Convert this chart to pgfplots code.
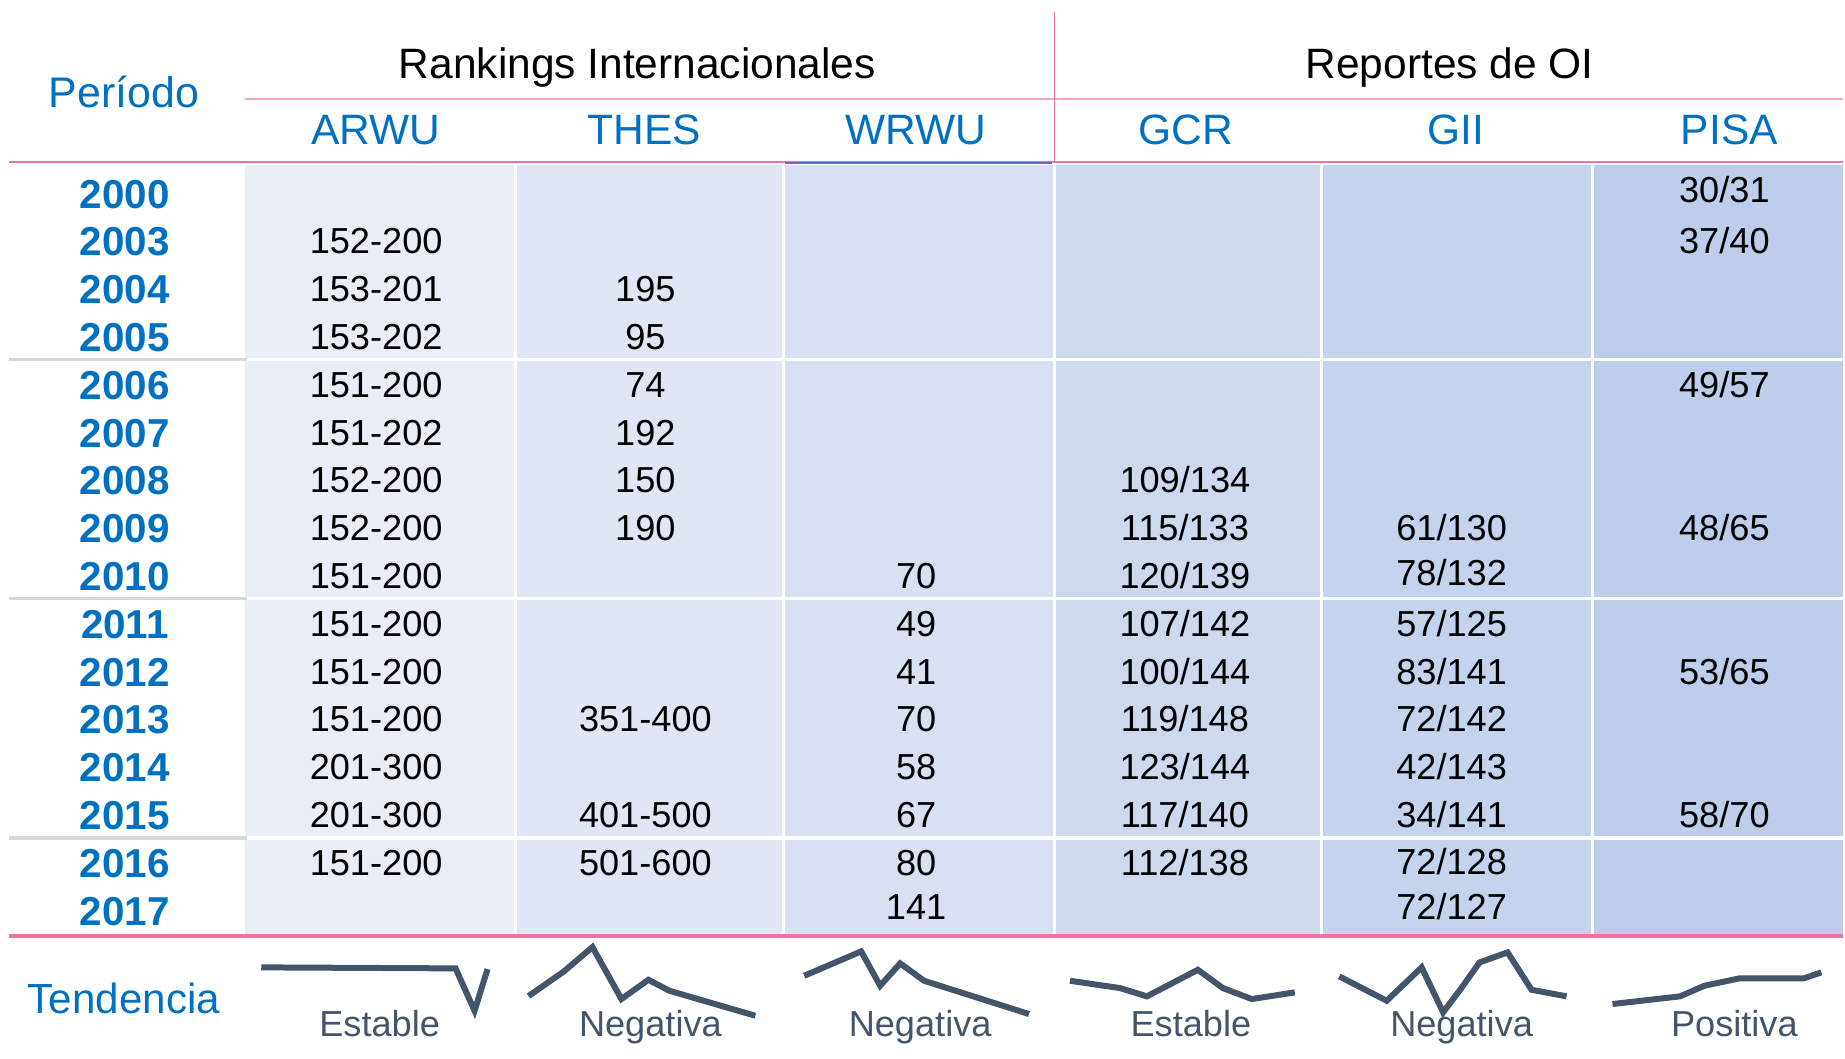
\documentclass[border=0pt]{standalone}
\usepackage{fontspec}
\setmainfont{Liberation Sans}
\usepackage{pgfplots}
\pgfplotsset{compat=1.18}
\definecolor{hblue}{RGB}{0,112,192}
\definecolor{spark}{RGB}{68,84,106}
\definecolor{pinkA}{RGB}{244,112,158}
\definecolor{pinkB}{RGB}{250,160,192}
\definecolor{gline}{RGB}{216,216,216}
\definecolor{wline}{RGB}{96,108,190}
\definecolor{cA}{RGB}{233,237,246}
\definecolor{cB}{RGB}{224,230,243}
\definecolor{cC}{RGB}{216,224,242}
\definecolor{cD}{RGB}{207,217,238}
\definecolor{cE}{RGB}{198,211,236}
\definecolor{cF}{RGB}{190,205,233}
\newcommand{\fs}[1]{\fontsize{#1}{#1}\selectfont}
\newcommand{\cell}[3]{\node[anchor=base,font=\fs{10.3}] at (axis cs:#1,#2+2) {#3};}
\newcommand{\yr}[2]{\node[anchor=base,font=\fs{11.5}\bfseries,text=hblue] at (axis cs:125,#1) {#2};}
\begin{document}
\begin{tikzpicture}
\begin{axis}[scale only axis, width=18.45cm, height=10.6cm,
  xmin=0, xmax=1845, ymin=0, ymax=1060, y dir=reverse,
  hide axis, clip=false]
\path (axis cs:0,0) rectangle (axis cs:1845,1060);
% column backgrounds
\addplot[draw=none, fill=cA] coordinates {(245,165)(514,165)(514,936)(245,936)} -- cycle;
\addplot[draw=none, fill=cB] coordinates {(517,165)(783,165)(783,936)(517,936)} -- cycle;
\addplot[draw=none, fill=cC] coordinates {(786,165)(1054,165)(1054,936)(786,936)} -- cycle;
\addplot[draw=none, fill=cD] coordinates {(1057,165)(1321,165)(1321,936)(1057,936)} -- cycle;
\addplot[draw=none, fill=cE] coordinates {(1324,165)(1592,165)(1592,936)(1324,936)} -- cycle;
\addplot[draw=none, fill=cF] coordinates {(1595,165)(1845,165)(1845,936)(1595,936)} -- cycle;
% white row separators
\addplot[white, line width=0.35mm] coordinates {(245,360)(1845,360)};
\addplot[white, line width=0.35mm] coordinates {(245,599)(1845,599)};
\addplot[white, line width=0.35mm] coordinates {(245,839)(1845,839)};
% grey separators at left
\addplot[gline, line width=0.35mm] coordinates {(9,360)(247,360)};
\addplot[gline, line width=0.35mm] coordinates {(9,599)(247,599)};
\addplot[gline, line width=0.35mm] coordinates {(9,839)(247,839)};
% pink lines
\addplot[pinkB, line width=0.25mm] coordinates {(245,99)(1845,99)};
\addplot[pinkA, line width=0.22mm] coordinates {(9,162)(1845,162)};
\addplot[pinkA, line width=0.1mm] coordinates {(1055,12)(1055,162)};
\addplot[wline, line width=0.2mm] coordinates {(786,163)(1053,163)};
\addplot[pinkA, line width=0.35mm] coordinates {(9,937)(1845,937)};
% headers
\node[anchor=base,font=\fs{12.1}] at (axis cs:638,79) {Rankings Internacionales};
\node[anchor=base,font=\fs{12.1}] at (axis cs:1451,79) {Reportes de OI};
\node[anchor=base,font=\fs{12.2},text=hblue] at (axis cs:124,107.5) {Período};
\node[anchor=base,font=\fs{12.1},text=hblue] at (axis cs:376.5,145) {ARWU};
\node[anchor=base,font=\fs{12.1},text=hblue] at (axis cs:645,145) {THES};
\node[anchor=base,font=\fs{12.1},text=hblue] at (axis cs:917,145) {WRWU};
\node[anchor=base,font=\fs{12.1},text=hblue] at (axis cs:1187,145) {GCR};
\node[anchor=base,font=\fs{12.1},text=hblue] at (axis cs:1457,145) {GII};
\node[anchor=base,font=\fs{12.1},text=hblue] at (axis cs:1731,145) {PISA};
% years
\yr{208.3}{2000}
\yr{256.15}{2003}
\yr{304.0}{2004}
\yr{351.85}{2005}
\yr{399.7}{2006}
\yr{447.55}{2007}
\yr{495.4}{2008}
\yr{543.25}{2009}
\yr{591.1}{2010}
\yr{638.95}{2011}
\yr{686.8}{2012}
\yr{734.65}{2013}
\yr{782.5}{2014}
\yr{830.35}{2015}
\yr{878.2}{2016}
\yr{926.05}{2017}
% ARWU
\cell{376.5}{252.15}{152-200}
\cell{376.5}{300.0}{153-201}
\cell{376.5}{347.85}{153-202}
\cell{376.5}{395.7}{151-200}
\cell{376.5}{443.55}{151-202}
\cell{376.5}{491.4}{152-200}
\cell{376.5}{539.25}{152-200}
\cell{376.5}{587.1}{151-200}
\cell{376.5}{634.95}{151-200}
\cell{376.5}{682.8}{151-200}
\cell{376.5}{730.65}{151-200}
\cell{376.5}{778.5}{201-300}
\cell{376.5}{826.35}{201-300}
\cell{376.5}{874.2}{151-200}
% THES
\cell{646}{300.0}{195}
\cell{646}{347.85}{95}
\cell{646}{395.7}{74}
\cell{646}{443.55}{192}
\cell{646}{491.4}{150}
\cell{646}{539.25}{190}
\cell{646}{730.65}{351-400}
\cell{646}{826.35}{401-500}
\cell{646}{874.2}{501-600}
% WRWU
\cell{917}{587.1}{70}
\cell{917}{634.95}{49}
\cell{917}{682.8}{41}
\cell{917}{730.65}{70}
\cell{917}{778.5}{58}
\cell{917}{826.35}{67}
\cell{917}{874.2}{80}
\cell{917}{918}{141}
% GCR
\cell{1186}{491.4}{109/134}
\cell{1186}{539.25}{115/133}
\cell{1186}{587.1}{120/139}
\cell{1186}{634.95}{107/142}
\cell{1186}{682.8}{100/144}
\cell{1186}{730.65}{119/148}
\cell{1186}{778.5}{123/144}
\cell{1186}{826.35}{117/140}
\cell{1186}{874.2}{112/138}
% GII
\cell{1453}{539.25}{61/130}
\cell{1453}{584}{78/132}
\cell{1453}{634.95}{57/125}
\cell{1453}{682.8}{83/141}
\cell{1453}{730.65}{72/142}
\cell{1453}{778.5}{42/143}
\cell{1453}{826.35}{34/141}
\cell{1453}{873}{72/128}
\cell{1453}{918}{72/127}
% PISA
\cell{1726}{200.7}{30/31}
\cell{1726}{252.15}{37/40}
\cell{1726}{395.7}{49/57}
\cell{1726}{539.25}{48/65}
\cell{1726}{682.8}{53/65}
\cell{1726}{826.35}{58/70}
% Tendencia
\node[anchor=base,font=\fs{12.0},text=hblue] at (axis cs:124,1014.3) {Tendencia};
\addplot[spark, line width=0.6mm, line join=miter] coordinates {(261.5,968.3)(456,969.3)(475,1011.7)(488,970)};
\addplot[spark, line width=0.6mm, line join=miter] coordinates {(529,997)(564,972.7)(593,948)(622,1000)(649,980.7)(670,991.7)(756,1016.7)};
\addplot[spark, line width=0.6mm, line join=miter] coordinates {(805,976.7)(862,952.3)(881,986.7)(901,964.3)(925,981.7)(1030,1015)};
\addplot[spark, line width=0.6mm, line join=miter] coordinates {(1071,981.7)(1121,989)(1148,997.3)(1199,970.7)(1224,989)(1253,1000)(1296,993.3)};
\addplot[spark, line width=0.6mm, line join=miter] coordinates {(1340.5,977.3)(1388,1001.7)(1423,968.3)(1444.5,1013.3)(1462,990)(1481,963.3)(1509,953.3)(1533,990.7)(1568,997.3)};
\addplot[spark, line width=0.6mm, line join=miter] coordinates {(1614,1005)(1681.6,997.3)(1706,986.7)(1741,979.3)(1805.5,979.3)(1823,973.3)};
\node[anchor=base,font=\fs{10.3},text=spark] at (axis cs:380,1037.5) {Estable};
\node[anchor=base,font=\fs{10.3},text=spark] at (axis cs:651,1037.5) {Negativa};
\node[anchor=base,font=\fs{10.3},text=spark] at (axis cs:921,1037.5) {Negativa};
\node[anchor=base,font=\fs{10.3},text=spark] at (axis cs:1192,1037.5) {Estable};
\node[anchor=base,font=\fs{10.3},text=spark] at (axis cs:1463,1037.5) {Negativa};
\node[anchor=base,font=\fs{10.3},text=spark] at (axis cs:1736,1037.5) {Positiva};
\end{axis}
\end{tikzpicture}
\end{document}
